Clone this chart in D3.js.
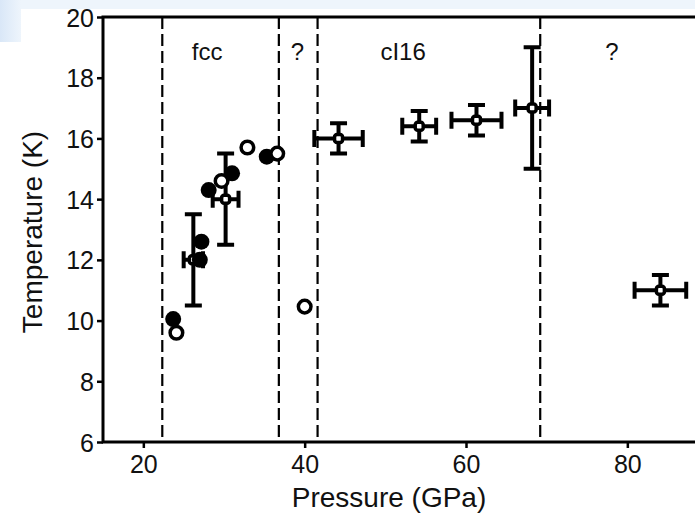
<!DOCTYPE html>
<html>
<head>
<meta charset="utf-8">
<script src="https://cdn.jsdelivr.net/npm/d3@7/dist/d3.min.js"></script>
<style>
  html, body { margin: 0; padding: 0; background: #ffffff; overflow: hidden; }
  svg { display: block; font-family: "Liberation Sans", Arial, Helvetica, sans-serif; }
</style>
</head>
<body>
<svg id="chart" width="695" height="514"></svg>
<script>
// Superconducting transition temperature of the element versus pressure
const filledP = [23.7, 27.0, 27.2, 28.1, 31.0, 35.3];
const filledT = [10.05, 12.0, 12.6, 14.3, 14.85, 15.4];
const openP = [24.1, 29.7, 32.9, 36.6, 40.0];
const openT = [9.6, 14.6, 15.7, 15.5, 10.46];

// Points with pressure and temperature uncertainties
const errP = [26.2, 30.2, 44.2, 54.2, 61.3, 68.2, 84.1];
const errT = [12.0, 14.0, 16.0, 16.4, 16.6, 17.0, 11.0];
const errDP = [1.2, 1.6, 3.0, 2.1, 3.1, 2.1, 3.2];
const errDT = [1.5, 1.5, 0.5, 0.5, 0.5, 2.0, 0.5];

// Phase boundaries and structure labels
const phaseBounds = [22.35, 36.8, 41.6, 69.2];
const phaseNames = ["fcc", "?", "cI16", "?"];
const phaseLabelP = [27.9, 39.1, 52.2, 78.1];

const xTicks = [20, 40, 60, 80];
const yTicks = [6, 8, 10, 12, 14, 16, 18, 20];

const svg = d3.select("#chart");

// soft blue page corner
const defs = svg.append("defs");
const grad = defs.append("linearGradient").attr("id", "corner").attr("x1", 0).attr("x2", 1).attr("y1", 0).attr("y2", 0);
grad.append("stop").attr("offset", "0%").attr("stop-color", "#d9e7f7");
grad.append("stop").attr("offset", "100%").attr("stop-color", "#eef5fc");
svg.append("rect").attr("x", 0).attr("y", 0).attr("width", 695).attr("height", 9).attr("fill", "#eef5fc");
svg.append("rect").attr("x", 0).attr("y", 0).attr("width", 21).attr("height", 42).attr("fill", "url(#corner)");

const x = d3.scaleLinear().domain([15, 90]).range([103, 708]);
const y = d3.scaleLinear().domain([6, 20]).range([442, 17]);

const g = svg.append("g");

// phase boundaries
g.selectAll("line.bound").data(phaseBounds).join("line")
  .attr("class", "bound")
  .attr("x1", d => x(d)).attr("x2", d => x(d))
  .attr("y1", y(20)).attr("y2", y(6))
  .attr("stroke", "#000").attr("stroke-width", 2.2)
  .attr("stroke-dasharray", "12,5");

g.selectAll("text.phase").data(phaseNames).join("text")
  .attr("class", "phase")
  .attr("x", (d, i) => x(phaseLabelP[i]))
  .attr("y", 60)
  .attr("text-anchor", "middle")
  .attr("font-size", 24)
  .attr("fill", "#111")
  .text(d => d);

// axes
const xAxis = d3.axisBottom(x).tickValues(xTicks).tickSize(6).tickPadding(7).tickFormat(d3.format("d"));
const yAxis = d3.axisLeft(y).tickValues(yTicks).tickSize(6).tickPadding(3).tickFormat(d3.format("d"));

const gx = svg.append("g").attr("transform", `translate(0,${y(6)})`).call(xAxis);
const gy = svg.append("g").attr("transform", `translate(${x(15)},0)`).call(yAxis);
[gx, gy].forEach(a => {
  a.select(".domain").remove();
  a.selectAll(".tick line").attr("stroke", "#000").attr("stroke-width", 2.5);
  a.selectAll(".tick text").attr("font-size", 25).attr("fill", "#111")
    .attr("font-family", "'Liberation Sans', Arial, sans-serif");
});
gy.selectAll(".tick text").attr("dy", "0.36em");

// frame lines
svg.append("path")
  .attr("d", `M${x(90)},${y(20)}H${x(15)}V${y(6)}H${x(90)}`)
  .attr("fill", "none").attr("stroke", "#000").attr("stroke-width", 3);

// error bars
const cap = 8.5;
const eb = svg.append("g").attr("stroke", "#000").attr("stroke-width", 4).attr("fill", "none");
errP.forEach((p, i) => {
  const cx = x(p), cy = y(errT[i]);
  const x0 = x(p - errDP[i]), x1 = x(p + errDP[i]);
  const y0 = y(errT[i] - errDT[i]), y1 = y(errT[i] + errDT[i]);
  eb.append("path").attr("d",
    `M${x0},${cy}H${x1}M${x0},${cy - cap}V${cy + cap}M${x1},${cy - cap}V${cy + cap}` +
    `M${cx},${y0}V${y1}M${cx - cap},${y0}H${cx + cap}M${cx - cap},${y1}H${cx + cap}`);
});
svg.append("g").selectAll("rect").data(errP).join("rect")
  .attr("x", (d) => x(d) - 4).attr("y", (d, i) => y(errT[i]) - 4)
  .attr("width", 8).attr("height", 8).attr("rx", 2.5)
  .attr("fill", "#fff").attr("stroke", "#000").attr("stroke-width", 3.5);

// circles drawn in order of pressure
const pts = filledP.map((p, i) => ({ p, t: filledT[i], filled: true }))
  .concat(openP.map((p, i) => ({ p, t: openT[i], filled: false })))
  .sort((a, b) => a.p - b.p);
svg.append("g").selectAll("circle").data(pts).join("circle")
  .attr("cx", d => x(d.p)).attr("cy", d => y(d.t))
  .attr("r", d => d.filled ? 8 : 6.3)
  .attr("fill", d => d.filled ? "#000" : "#fff")
  .attr("stroke", "#000").attr("stroke-width", d => d.filled ? 0 : 3.5);

// axis titles
svg.append("text")
  .attr("x", 389).attr("y", 507)
  .attr("text-anchor", "middle").attr("font-size", 28).attr("fill", "#111")
  .text("Pressure (GPa)");
svg.append("text")
  .attr("transform", "translate(42,232) rotate(-90)")
  .attr("text-anchor", "middle").attr("font-size", 28).attr("fill", "#111")
  .text("Temperature (K)");
</script>
</body>
</html>
